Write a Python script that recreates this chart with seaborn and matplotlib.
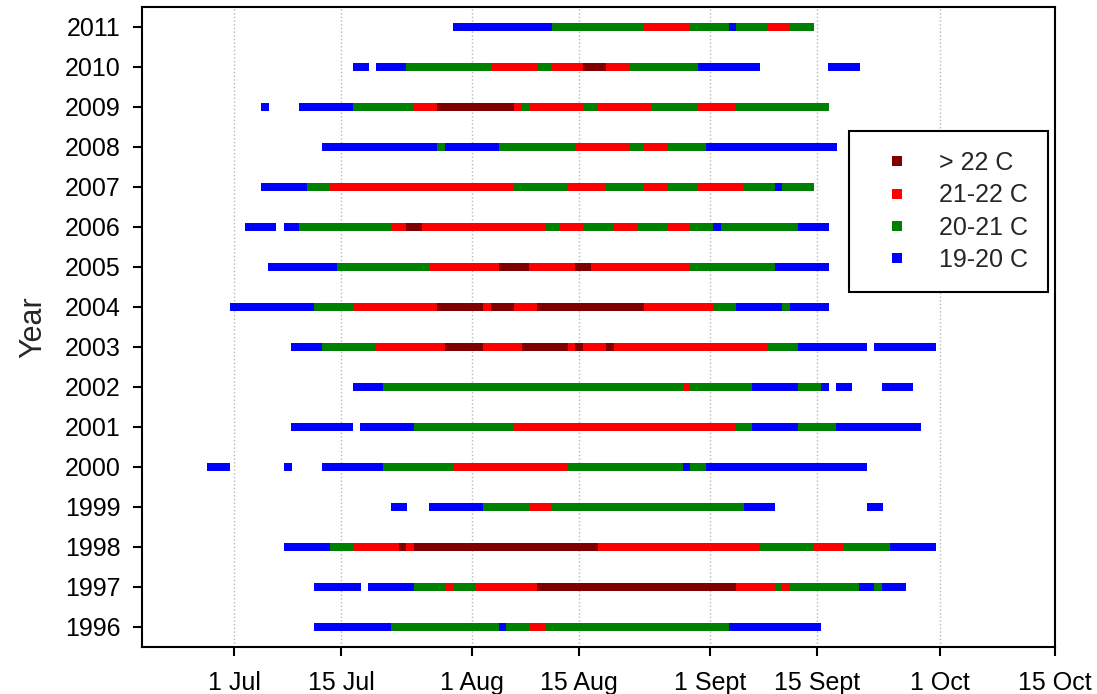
import matplotlib
matplotlib.use("Agg")
import matplotlib.pyplot as plt
import pandas as pd
import seaborn as sns

# Temperature classes (legend order) and colours
categories = ["> 22 C", "21-22 C", "20-21 C", "19-20 C"]
class_colors = ["#800000", "#ff0000", "#008000", "#0000ff"]
codes = {"D": "> 22 C", "R": "21-22 C", "G": "20-21 C", "B": "19-20 C"}

# x axis ticks (day of year)
tick_days = [182, 196, 213, 227, 244, 258, 274, 289]
tick_labels = ["1 Jul", "15 Jul", "1 Aug", "15 Aug", "1 Sept", "15 Sept", "1 Oct", "15 Oct"]

years = list(range(1996, 2012))

# Runs of days per year: (first day, last day, class code)
runs_1996 = [(193, 202, "B"), (203, 216, "G"), (217, 217, "B"), (218, 220, "G"),
             (221, 222, "R"), (223, 246, "G"), (247, 258, "B")]
runs_1997 = [(193, 198, "B"), (200, 205, "B"), (206, 209, "G"), (210, 210, "R"),
             (211, 213, "G"), (214, 221, "R"), (222, 247, "D"), (248, 252, "R"),
             (253, 253, "G"), (254, 254, "R"), (255, 263, "G"), (264, 265, "B"),
             (266, 266, "G"), (267, 269, "B")]
runs_1998 = [(189, 194, "B"), (195, 197, "G"), (198, 203, "R"), (204, 204, "D"),
             (205, 205, "R"), (206, 229, "D"), (230, 250, "R"), (251, 257, "G"),
             (258, 261, "R"), (262, 267, "G"), (268, 273, "B")]
runs_1999 = [(203, 204, "B"), (208, 214, "B"), (215, 220, "G"), (221, 223, "R"),
             (224, 248, "G"), (249, 252, "B"), (265, 266, "B")]
runs_2000 = [(179, 181, "B"), (189, 189, "B"), (194, 201, "B"), (202, 210, "G"),
             (211, 225, "R"), (226, 240, "G"), (241, 241, "B"), (242, 243, "G"),
             (244, 264, "B")]
runs_2001 = [(190, 197, "B"), (199, 205, "B"), (206, 218, "G"), (219, 247, "R"),
             (248, 249, "G"), (250, 255, "B"), (256, 260, "G"), (261, 271, "B")]
runs_2002 = [(198, 201, "B"), (202, 240, "G"), (241, 241, "R"), (242, 249, "G"),
             (250, 255, "B"), (256, 258, "G"), (259, 259, "B"), (261, 262, "B"),
             (267, 270, "B")]
runs_2003 = [(190, 193, "B"), (194, 200, "G"), (201, 209, "R"), (210, 214, "D"),
             (215, 219, "R"), (220, 225, "D"), (226, 226, "R"), (227, 227, "D"),
             (228, 230, "R"), (231, 231, "D"), (232, 251, "R"), (252, 255, "G"),
             (256, 264, "B"), (266, 273, "B")]
runs_2004 = [(182, 192, "B"), (193, 197, "G"), (198, 208, "R"), (209, 214, "D"),
             (215, 215, "R"), (216, 218, "D"), (219, 221, "R"), (222, 235, "D"),
             (236, 244, "R"), (245, 247, "G"), (248, 253, "B"), (254, 254, "G"),
             (255, 259, "B")]
runs_2005 = [(187, 195, "B"), (196, 207, "G"), (208, 216, "R"), (217, 220, "D"),
             (221, 226, "R"), (227, 228, "D"), (229, 241, "R"), (242, 252, "G"),
             (253, 259, "B")]
runs_2006 = [(184, 187, "B"), (189, 190, "B"), (191, 202, "G"), (203, 204, "R"),
             (205, 206, "D"), (207, 222, "R"), (223, 224, "G"), (225, 227, "R"),
             (228, 231, "G"), (232, 234, "R"), (235, 238, "G"), (239, 241, "R"),
             (242, 244, "G"), (245, 245, "B"), (246, 255, "G"), (256, 259, "B")]
runs_2007 = [(186, 191, "B"), (192, 194, "G"), (195, 218, "R"), (219, 225, "G"),
             (226, 230, "R"), (231, 235, "G"), (236, 238, "R"), (239, 242, "G"),
             (243, 248, "R"), (249, 252, "G"), (253, 253, "B"), (254, 257, "G")]
runs_2008 = [(194, 208, "B"), (209, 209, "G"), (210, 216, "B"), (217, 226, "G"),
             (227, 233, "R"), (234, 235, "G"), (236, 238, "R"), (239, 243, "G"),
             (244, 260, "B")]
runs_2009 = [(186, 186, "B"), (191, 197, "B"), (198, 205, "G"), (206, 208, "R"),
             (209, 218, "D"), (219, 219, "R"), (220, 220, "G"), (221, 227, "R"),
             (228, 229, "G"), (230, 236, "R"), (237, 242, "G"), (243, 247, "R"),
             (248, 259, "G")]
runs_2010 = [(198, 199, "B"), (201, 204, "B"), (205, 215, "G"), (216, 221, "R"),
             (222, 223, "G"), (224, 227, "R"), (228, 230, "D"), (231, 233, "R"),
             (234, 242, "G"), (243, 250, "B"), (260, 263, "B")]
runs_2011 = [(211, 223, "B"), (224, 235, "G"), (236, 241, "R"), (242, 246, "G"),
             (247, 247, "B"), (248, 251, "G"), (252, 254, "R"), (255, 257, "G")]

all_runs = [runs_1996, runs_1997, runs_1998, runs_1999, runs_2000, runs_2001,
            runs_2002, runs_2003, runs_2004, runs_2005, runs_2006, runs_2007,
            runs_2008, runs_2009, runs_2010, runs_2011]

rows = []
for yr, runs in zip(years, all_runs):
    for first, last, code in runs:
        for d in range(first, last + 1):
            rows.append({"year": yr, "day": d, "cls": codes[code]})
df = pd.DataFrame(rows)

sns.set_style("ticks")
plt.rcParams["font.family"] = ["Liberation Sans", "DejaVu Sans"]

W, H = 1097, 694
fig = plt.figure(figsize=(W / 100, H / 100), dpi=100)
ax = fig.add_axes([142 / W, 1 - 646.7 / H, (1055 - 142) / W, (646.7 - 7) / H])

sns.scatterplot(data=df, x="day", y="year", hue="cls", hue_order=categories,
                palette=class_colors, marker="s", s=34, linewidth=0, ax=ax)

ax.set_xlim(170, 289)
ax.set_ylim(1995.5, 2011.5)
ax.set_xticks(tick_days)
ax.set_xticklabels(tick_labels)
ax.set_yticks(years)
ax.set_yticklabels([str(y) for y in years])
ax.set_xlabel("")
ax.set_ylabel("Year", fontsize=22, labelpad=12)

ax.grid(axis="x", linestyle=":", color="#b8b8b8", linewidth=1.0)
ax.set_axisbelow(True)

for sp in ax.spines.values():
    sp.set_visible(True)
    sp.set_color("black")
    sp.set_linewidth(1.5)
ax.tick_params(axis="both", direction="out", length=6.5, width=1.5,
               labelsize=18, colors="black")
ax.tick_params(axis="y", pad=9)
ax.tick_params(axis="x", pad=11)

leg = ax.get_legend()
handles = leg.legend_handles
labels = [t.get_text() for t in leg.get_texts()]
leg.remove()
new_leg = ax.legend(handles, labels, loc="upper left", bbox_to_anchor=(0.7744, 0.806),
                    borderaxespad=0, frameon=True, fancybox=False, fontsize=18,
                    borderpad=0.8, labelspacing=0.33, handlelength=2.2,
                    handletextpad=0.6, markerscale=1.3, title=None)
fr = new_leg.get_frame()
fr.set_edgecolor("black")
fr.set_linewidth(1.5)
fr.set_alpha(1)

fig.savefig("out.png", dpi=100)
